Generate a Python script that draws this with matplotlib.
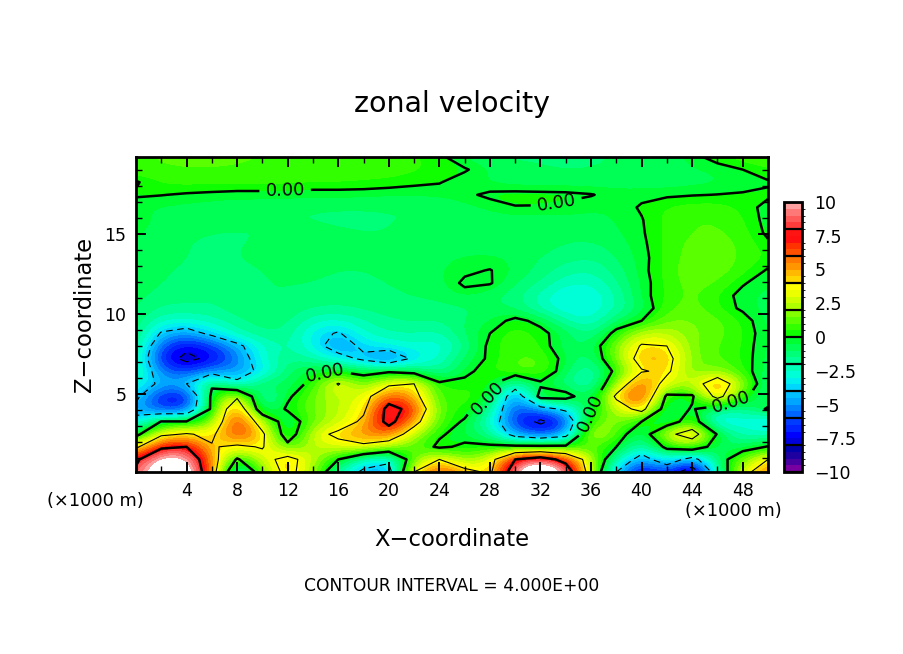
import numpy as np
import matplotlib
matplotlib.use('Agg')
import matplotlib.pyplot as plt
from matplotlib.cm import ScalarMappable
from matplotlib.colors import ListedColormap, BoundaryNorm
from matplotlib.ticker import MultipleLocator

W, H = 904, 654

# grid of the field
x_km = np.arange(0, 52, 2)
z_km = np.linspace(0.125, 19.8, 26)

u_rows = [
    [8.5, 12, 12, 5.5, -3.5, 1.5, 5, 2, -2, -4.5, -5, 4, 7, 5, 3.5, 10, 13, 10, 2.5, -4, -8, -6, -10, -2, 3, 6],
    [7.5, 11, 10.5, 5.5, -.3, 3, 5, 2.5, 0, -2.5, -3.5, 1.5, 4, 1.5, 3, 8, 9.5, 7, 2.5, -2, -5, -2.5, -5, -1, 1.5, 4],
    [3.5, 7.5, 8, 4.2, 3.5, 4.2, .8, 2.5, 3, 3.5, 2.2, 1, -.3, .3, .3, .5, .5, .5, 1, 0, -2.5, .5, 1.5, -1, -.8, .1],
    [-.7, 3.5, 4.2, 3.5, 7, 4.5, -1.5, 3, 4.6, 5.5, 6, 2.5, .2, -.6, -1.5, -5, -6, -5, 3.5, 1, -1.5, 3.2, 5.5, -.2, -2.5, -2],
    [-3.5, .1, .1, 1.5, 7.5, 2.5, -1.5, 1.5, 2.5, 4.5, 9, 5, 1, -.2, -2.5, -6.5, -8.5, -6.5, 1.2, 2, 0, -1.5, 1.5, -4, -2.5, -4],
    [-4.5, -6.5, -6.5, .5, 6.5, -2, .3, 1.5, 2.5, 3.5, 9, 7, .8, .6, -1.5, -6.5, -5, -3.5, -.3, 2.5, 5, -1.5, .2, -1.5, -2, .3],
    [-3.5, -7, -7.5, .5, 3.5, -2.5, -.3, 1.5, 2.5, 3, 6.5, 5, .5, 1, 0, -6, .8, .8, -1.5, 4.5, 7.5, -.5, -.3, 5, .5, -1.5],
    [-2.5, -4.5, -4, -.3, -3.5, -.5, -1, .5, 4.2, 1, 3.5, 4, .3, .3, .4, -2.5, -.3, -1.5, -2.5, 2, 6.5, 3, 2.5, 6, 2, -1.5],
    [-1.5, -5.5, -6.5, -5, -5, -3.5, -1, -.2, -.1, -.5, -.3, -.8, -2, -.3, .5, 1.2, 1.3, -.8, -2.5, .5, 3.8, 4.5, 1.2, 2, .6, -1],
    [-1.5, -7, -8.5, -7.5, -5.5, -2.5, -1.5, -2, -3, -4.5, -6, -3.5, -2.5, -.8, .2, 1, 1.2, -.5, -1.5, 1.8, 5, 4.8, 1.6, 1, .5, -.8],
    [-1.2, -6, -7.5, -6.5, -4.5, -2.5, -1.8, -3, -5.3, -3.5, -3, -2.5, -3, -1.5, .3, 1, .6, -1, -1, 1.8, 4.2, 4, 1.5, 1, .6, -.8],
    [-1, -4.2, -5, -3.5, -2.2, -1.5, -1.6, -3.2, -4.2, -2.5, -2, -2, -2.2, -.9, 0, 1, .3, -.6, -1.8, .5, 2.8, 2.5, 1.6, 1.2, .6, -.6],
    [-1, -2.5, -2.6, -2.2, -1.6, -1.2, -1.3, -2.4, -2.6, -2, -1.6, -1.4, -1.5, -1, -.5, .3, -.3, -2, -2.6, -1, 0, 1.6, 1.5, 1.2, .5, -.8],
    [-.9, -1.6, -1.6, -1.6, -1.2, -1.1, -1.1, -1.5, -1.6, -1.4, -1.2, -1.1, -1.2, -1.1, -.9, -1, -2.2, -3, -3, -2, -.8, .9, 1.3, .6, -.2, -.8],
    [-.8, -1.2, -1.3, -1.4, -1.2, -1, -1, -1.1, -1.2, -1.1, -1.1, -1, -.9, -.4, -.9, -1.3, -2.2, -3.2, -3, -2, -.4, .7, 1.2, .5, -.3, -.7],
    [-.7, -1, -1.2, -1.3, -1.2, -1, -1, -1, -1.1, -1.1, -1, -.8, -.7, .2, .1, -1, -1.5, -2.4, -2.5, -1.6, -.4, .7, 1.3, 1, .1, -.5],
    [-.6, -.9, -1.1, -1.2, -1.1, -1, -.9, -.9, -1, -1, -.9, -.7, -.6, -.2, .05, -.6, -1.2, -1.8, -2, -1.3, -.3, .8, 1.4, 1.4, .7, -.1],
    [-.5, -.8, -1, -1.1, -1, -.9, -.8, -.8, -.9, -.9, -.8, -.7, -.6, -.5, -.5, -.6, -1, -1.3, -1.5, -1, -.3, .7, 1.3, 1.4, .9, .4],
    [-.5, -.8, -1, -1.1, -1, -1, -.9, -.8, -.9, -.9, -.9, -.8, -.7, -.6, -.6, -.6, -.8, -1, -1.1, -.8, -.2, .7, 1.2, 1.3, .9, .2],
    [-.4, -.7, -.9, -1, -1, -1, -1, -.9, -.9, -1, -1, -.9, -.8, -.7, -.7, -.7, -.8, -.9, -.8, -.6, -.1, .7, 1, 1.1, .8, -.2],
    [-.3, -.6, -.8, -.9, -1, -1, -1, -1, -1.1, -1.1, -1, -1, -1, -.9, -.8, -.8, -.8, -.7, -.7, -.5, -.05, .7, 1, 1, .6, -.3],
    [-.4, -.6, -.7, -.8, -.9, -.9, -1, -1, -1, -1, -1, -1, -.9, -.7, -.4, -.05, -.05, -.2, -.4, -.4, .1, .6, .8, .8, .4, -.3],
    [.1, .03, -.1, -.2, -.3, -.3, -.3, -.4, -.4, -.4, -.5, -.5, -.4, -.2, .2, .3, .25, .2, .05, -.3, -.2, -.15, -.05, .02, .1, .15],
    [-.1, .6, .7, .7, .7, .7, .7, .6, .6, .5, .4, .2, .05, -.4, -.6, -.8, -.8, -.8, -.8, -.7, -.8, -.8, -.7, -.6, -.4, -.1],
    [.9, 1, 1, 1, 1, 1, .9, .9, .9, .8, .8, .6, .4, .1, -.5, -.8, -.9, -1, -1, -1, -.9, -.8, -.6, -.4, 0, .5],
    [1, 1, 1.1, 1.1, 1, 1, 1, 1, .9, .8, .7, .6, .2, -.6, -1, -1.1, -1.1, -1.2, -1, -1, -.9, -.8, -.3, .4, .9, 1],
]
u = np.array(u_rows)

x_ticks = [4, 8, 12, 16, 20, 24, 28, 32, 36, 40, 44, 48]
z_ticks = [5, 10, 15]
cbar_ticks = [10, 7.5, 5, 2.5, 0, -2.5, -5, -7.5, -10]
cbar_labels = ['10', '7.5', '5', '2.5', '0', '\u22122.5', '\u22125', '\u22127.5', '\u221210']

shades = [
    (120, 0, 160), (70, 0, 160), (30, 0, 160), (0, 0, 170),
    (0, 0, 220), (0, 0, 255), (0, 35, 255), (0, 60, 255),
    (0, 100, 255), (0, 130, 255), (0, 165, 255), (0, 190, 255),
    (0, 215, 255), (0, 240, 240), (0, 255, 215), (0, 255, 185),
    (0, 255, 150), (0, 255, 120), (0, 255, 85), (0, 255, 50),
    (15, 255, 0), (50, 255, 0), (90, 255, 0), (130, 255, 0),
    (175, 255, 0), (205, 255, 0), (235, 255, 0), (255, 255, 0),
    (255, 215, 0), (255, 185, 0), (255, 150, 0), (255, 120, 0),
    (255, 80, 0), (255, 50, 0), (255, 15, 15), (255, 20, 20),
    (255, 60, 60), (255, 90, 90), (255, 120, 120), (255, 160, 160),
]
levels = np.arange(-10, 10.5, 0.5)
cmap = ListedColormap([(r / 255, g / 255, b / 255) for r, g, b in shades])
cmap.set_over('white')
cmap.set_under((0.35, 0, 0.45))
norm = BoundaryNorm(levels, cmap.N)


def box(left, top, right, bottom):
    return [left / W, 1 - bottom / H, (right - left) / W, (bottom - top) / H]


def px_text(px, py, s, **kw):
    return fig.text(px / W, 1 - py / H, s, ha='center', va='center', **kw)


fig = plt.figure(figsize=(W / 100, H / 100), dpi=100)
ax = fig.add_axes(box(136, 157, 768, 472))

dx = x_km[1] - x_km[0]
dz = z_km[1] - z_km[0]
ax.imshow(u, origin='lower', aspect='auto', cmap=cmap, norm=norm,
          extent=[x_km[0] - dx / 2, x_km[-1] + dx / 2, z_km[0] - dz / 2, z_km[-1] + dz / 2],
          interpolation='bicubic', interpolation_stage='data')
zero = ax.contour(x_km, z_km, u, levels=[0], colors='k', linewidths=1.8, linestyles='solid')
ax.contour(x_km, z_km, u, levels=[4], colors='k', linewidths=0.8, linestyles='solid')
ax.contour(x_km, z_km, u, levels=[8], colors='k', linewidths=1.8, linestyles='solid')
ax.contour(x_km, z_km, u, levels=[-8, -4], colors='k', linewidths=0.8, linestyles=[(0, (6, 4))])
ax.clabel(zero, fmt='%.2f', fontsize=13, inline=True,
          manual=[(11.8, 17.7), (33.3, 16.7), (15, 6.2), (28, 4.5), (36, 3.8), (47, 4.8)])

ax.set_xlim(0, 50)
ax.set_ylim(0.125, 19.8)
ax.set_xticks(x_ticks)
ax.set_yticks(z_ticks)
ax.xaxis.set_minor_locator(MultipleLocator(2))
ax.yaxis.set_minor_locator(MultipleLocator(1))
ax.tick_params(which='major', direction='in', length=7, width=1.4, top=True, right=True, labelsize=12.5, pad=7)
ax.tick_params(which='minor', direction='in', length=4, width=1, top=True, right=True)
for sp in ax.spines.values():
    sp.set_linewidth(2)

cax = fig.add_axes(box(784, 202, 802, 472))
cb = fig.colorbar(ScalarMappable(norm=norm, cmap=cmap), cax=cax, ticks=cbar_ticks,
                  extend='neither', spacing='proportional')
cb.ax.set_yticklabels(cbar_labels)
cb.ax.tick_params(length=0, labelsize=12.5, pad=9)
cb.outline.set_linewidth(2)
cb.ax.hlines(np.arange(-10, 12, 2), 0, 1, colors='k', linewidth=1.6, transform=cb.ax.get_yaxis_transform())

px_text(452, 104, 'zonal velocity', fontsize=20.5)
px_text(452, 539, 'X\u2212coordinate', fontsize=16.3)
px_text(84, 314, 'Z\u2212coordinate', fontsize=16.3, rotation=90)
px_text(95, 501, '(\u00d71000 m)', fontsize=12.8)
px_text(733, 511, '(\u00d71000 m)', fontsize=12.8)
px_text(452, 586, 'CONTOUR INTERVAL = 4.000E+00', fontsize=12.3)

fig.savefig('out.png', dpi=100)
